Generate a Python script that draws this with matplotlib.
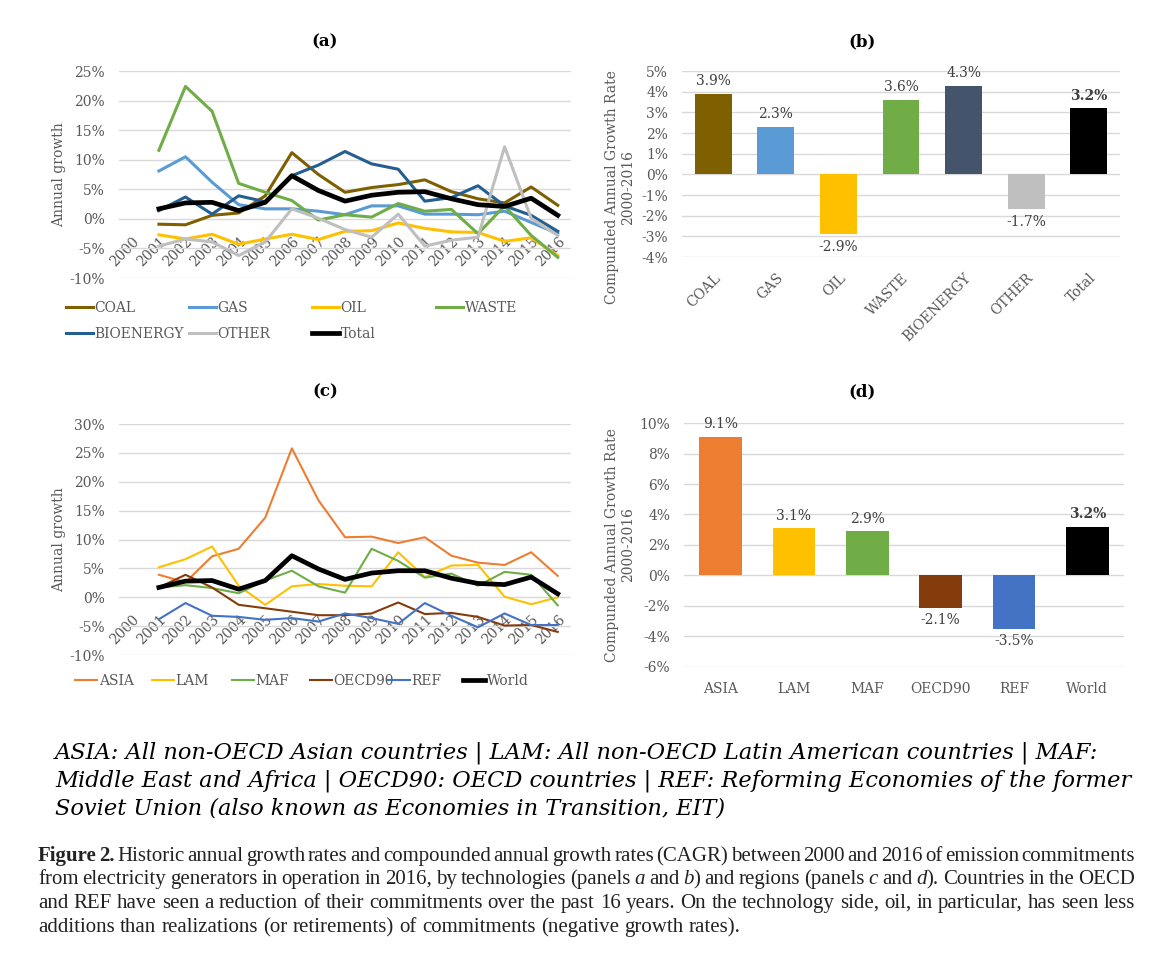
import matplotlib
matplotlib.use('Agg')
import numpy as np
import matplotlib.pyplot as plt
from matplotlib.legend import Legend
from matplotlib.ticker import FuncFormatter, MultipleLocator

# ---- data -------------------------------------------------------------
years = [str(y) for y in range(2000, 2017)]   # 2000 has no value

coal      = [-0.9, -1.0, 0.6, 1.0, 3.9, 11.2, 7.5, 4.5, 5.3, 5.8, 6.6, 4.6, 3.4, 2.7, 5.4, 2.3]
gas       = [8.1, 10.5, 6.2, 2.4, 1.7, 1.7, 1.3, 0.7, 2.2, 2.2, 0.8, 0.8, 0.7, 1.3, -0.6, -2.5]
oil       = [-2.7, -3.4, -2.6, -4.3, -3.4, -2.6, -3.5, -2.1, -2.0, -0.7, -1.6, -2.2, -2.3, -3.8, -3.2, -6.2]
waste     = [11.6, 22.4, 18.2, 6.0, 4.5, 3.1, -0.2, 0.7, 0.3, 2.6, 1.3, 1.6, -2.5, 2.2, -2.8, -6.5]
bioenergy = [1.4, 3.7, 0.8, 3.9, 2.9, 7.3, 9.1, 11.4, 9.3, 8.4, 3.0, 3.6, 5.6, 2.2, 0.6, -2.1]
other     = [-4.6, -3.4, -3.9, -6.2, -3.9, 1.7, 0.1, -1.8, -3.1, 0.8, -4.6, -3.6, -3.1, 12.2, 0.1, -2.8]
total     = [1.7, 2.7, 2.8, 1.4, 2.8, 7.3, 4.8, 3.0, 4.0, 4.5, 4.6, 3.4, 2.4, 2.1, 3.5, 0.6]

asia   = [3.9, 2.6, 7.1, 8.4, 13.8, 25.8, 16.8, 10.4, 10.5, 9.4, 10.4, 7.2, 6.0, 5.6, 7.8, 3.7]
lam    = [5.2, 6.6, 8.8, 2.0, -1.3, 1.9, 2.3, 2.0, 1.9, 7.8, 3.5, 5.5, 5.6, 0.1, -1.2, 0.0]
maf    = [1.7, 2.1, 1.6, 0.7, 2.9, 4.6, 1.9, 0.8, 8.4, 6.3, 3.4, 4.1, 2.0, 4.4, 3.9, -1.4]
oecd90 = [1.7, 3.9, 1.7, -1.3, -1.9, -2.5, -3.1, -3.1, -2.8, -0.9, -2.9, -2.7, -3.4, -4.9, -4.8, -6.0]
ref    = [-3.8, -1.0, -3.2, -3.4, -3.9, -3.6, -4.2, -2.8, -3.6, -4.6, -1.0, -3.2, -5.2, -2.8, -4.8, -4.8]
world  = [1.7, 2.8, 2.9, 1.4, 2.9, 7.2, 4.9, 3.1, 4.2, 4.6, 4.6, 3.3, 2.4, 2.2, 3.5, 0.6]

tech = ['COAL', 'GAS', 'OIL', 'WASTE', 'BIOENERGY', 'OTHER', 'Total']
cagr_tech = [3.9, 2.3, -2.9, 3.6, 4.3, -1.7, 3.2]
regions = ['ASIA', 'LAM', 'MAF', 'OECD90', 'REF', 'World']
cagr_reg = [9.1, 3.1, 2.9, -2.1, -3.5, 3.2]

GREY = '#595959'
plt.rcParams['font.family'] = 'DejaVu Serif'
plt.rcParams['font.size'] = 10

fig = plt.figure(figsize=(11.69, 9.64), dpi=100)
W, H = 1169, 964


def style(ax, lo, hi, step):
    ax.set_ylim(lo, hi)
    ax.yaxis.set_major_locator(MultipleLocator(step))
    ax.yaxis.set_major_formatter(FuncFormatter(lambda v, p: '%d%%' % round(v)))
    ax.grid(axis='y', color='#d9d9d9', linewidth=1)
    ax.set_axisbelow(True)
    for s in ax.spines.values():
        s.set_visible(False)
    ax.tick_params(length=0, colors=GREY, labelsize=10)
    ax.tick_params(axis='y', pad=10)


def line_panel(rect, series, lo, hi, step):
    ax = fig.add_axes(rect)
    x = np.arange(1, 17)
    for name, vals, col, lw in series:
        ax.plot(x, vals, color=col, lw=lw, label=name)
    ax.spines['bottom'].set_position(('data', 0))
    style(ax, lo, hi, step)
    ax.set_xlim(-0.5, 16.5)
    ax.set_xticks(range(17))
    ax.tick_params(axis='x', pad=11)
    ax.set_xticklabels(years, rotation=45, ha='right', va='top', rotation_mode='anchor')
    ax.set_ylabel('Annual growth', color=GREY, fontsize=10)
    ax.yaxis.set_label_coords(-0.117, 0.5)
    return ax


def legend_cols(ax, cols, y_px, hl):
    # one small legend per column so columns sit where the reference has them
    h, l = ax.get_legend_handles_labels()
    for x_px, idx in cols:
        leg = Legend(ax, [h[i] for i in idx], [l[i] for i in idx], loc='upper left',
                     bbox_to_anchor=(x_px / W, 1 - y_px / H), bbox_transform=fig.transFigure,
                     frameon=False, borderpad=0, borderaxespad=0, handlelength=hl,
                     handletextpad=0.1, labelspacing=0.85, labelcolor=GREY, fontsize=10)
        ax.add_artist(leg)


# ---- (a) ----
series_a = [('COAL', coal, '#7f6000', 2.2), ('GAS', gas, '#5b9bd5', 2.2),
            ('OIL', oil, '#ffc000', 2.2), ('WASTE', waste, '#70ad47', 2.2),
            ('BIOENERGY', bioenergy, '#255e91', 2.2), ('OTHER', other, '#bfbfbf', 2.2),
            ('Total', total, 'black', 3.4)]
axa = line_panel([0.1018, 0.7116, 0.3867, 0.2147], series_a, -10, 25, 5)
legend_cols(axa, [(66, [0, 4]), (189, [1, 5]), (312, [2, 6]), (436, [3])], 301, 1.95)

# ---- (c) ----
series_c = [('ASIA', asia, '#ed7d31', 1.5), ('LAM', lam, '#ffc000', 1.5),
            ('MAF', maf, '#70ad47', 1.5), ('OECD90', oecd90, '#843c0c', 1.5),
            ('REF', ref, '#4472c4', 1.5), ('World', world, 'black', 3.4)]
axc = line_panel([0.1018, 0.3205, 0.3867, 0.2396], series_c, -10, 30, 5)
legend_cols(axc, [(75, [0]), (152, [1]), (232, [2]), (310, [3]), (388, [4]), (463, [5])], 674, 1.6)


def bar_panel(rect, cats, vals, colors, lo, hi, step, width):
    ax = fig.add_axes(rect)
    bars = ax.bar(cats, vals, width=width, color=colors)
    labs = ax.bar_label(bars, fmt='%.1f%%', padding=4, color='#404040', fontsize=10)
    labs[-1].set_fontweight('bold')
    style(ax, lo, hi, step)
    ax.set_xlim(-0.5, len(cats) - 0.5)
    ax.set_ylabel('Compunded Annual Growth Rate\n2000-2016', color=GREY, fontsize=10,
                  linespacing=1.15)
    return ax


# ---- (b) ----
axb = bar_panel([0.5834, 0.7334, 0.3747, 0.1929], tech, cagr_tech,
                ['#7f6000', '#5b9bd5', '#ffc000', '#70ad47', '#44546a', '#bfbfbf', 'black'],
                -4, 5, 1, 0.59)
axb.set_xticks(range(len(tech)))
axb.tick_params(axis='x', pad=10)
axb.set_xticklabels(tech, rotation=45, ha='right', va='top', rotation_mode='anchor')
axb.yaxis.set_label_coords(-0.107, 0.375)

# ---- (d) ----
axd = bar_panel([0.5851, 0.3081, 0.3764, 0.2531], regions, cagr_reg,
                ['#ed7d31', '#ffc000', '#70ad47', '#843c0c', '#4472c4', 'black'],
                -6, 10, 2, 0.58)
axd.tick_params(axis='x', pad=11)
axd.yaxis.set_label_coords(-0.111, 0.5)

# panel titles
for txt, xp, yp in [('(a)', 325, 42), ('(b)', 862, 42), ('(c)', 325, 392), ('(d)', 862, 392)]:
    fig.text(xp / W, 1 - yp / H, txt, ha='center', va='center', fontsize=12, fontweight='bold')

# ---- region definitions ----
notes = ['ASIA: All non-OECD Asian countries | LAM: All non-OECD Latin American countries | MAF:',
         'Middle East and Africa | OECD90: OECD countries | REF: Reforming Economies of the former',
         'Soviet Union (also known as Economies in Transition, EIT)']
for note, yb in zip(notes, [758, 787, 815]):
    fig.text(55 / W, 1 - yb / H, note, ha='left', va='baseline', fontsize=16.2, style='italic')

# ---- caption, drawn word by word so lines can be justified ----
renderer = fig.canvas.get_renderer()
CAP = dict(family='Liberation Serif', fontsize=15, color='#222222')
BOLD = dict(fontweight='bold')
IT = dict(style='italic')


def word_width(s, kw):
    t = fig.text(0, 0, s, **{**CAP, **kw})
    w = t.get_window_extent(renderer=renderer).width
    t.remove()
    return w


def cap_line(words, y_px, justify=True, x0=38, x1=1135):
    # words: list of (text, style dict, glued to previous word)
    widths = [word_width(w, kw) for w, kw, g in words]
    space = word_width('a a', {}) - word_width('aa', {})
    n_gaps = sum(1 for _, _, g in words[1:] if not g)
    gap = ((x1 - x0) - sum(widths)) / n_gaps if justify else space
    gap = max(gap, 1.0)
    x = x0
    for i, ((w, kw, g), wd) in enumerate(zip(words, widths)):
        if i > 0 and not g:
            x += gap
        fig.text(x / W, 1 - y_px / H, w, ha='left', va='baseline', **{**CAP, **kw})
        x += wd


def split(s, kw=None):
    return [(w, kw or {}, False) for w in s.split()]


line1 = split('Figure 2.', BOLD) + \
    split('Historic annual growth rates and compounded annual growth rates (CAGR) between 2000 and 2016 of emission commitments')
line2 = split('from electricity generators in operation in 2016, by technologies (panels') + \
    [('a', IT, False)] + split('and') + [('b', IT, False), (')', {}, True)] + \
    split('and regions (panels') + [('c', IT, False)] + split('and') + \
    [('d', IT, False), (').', {}, True)] + split('Countries in the OECD')
line3 = split('and REF have seen a reduction of their commitments over the past 16 years. On the technology side, oil, in particular, has seen less')
line4 = split('additions than realizations (or retirements) of commitments (negative growth rates).')

cap_line(line1, 861)
cap_line(line2, 884)
cap_line(line3, 908)
cap_line(line4, 932, justify=False)

fig.savefig('out.png', dpi=100)
